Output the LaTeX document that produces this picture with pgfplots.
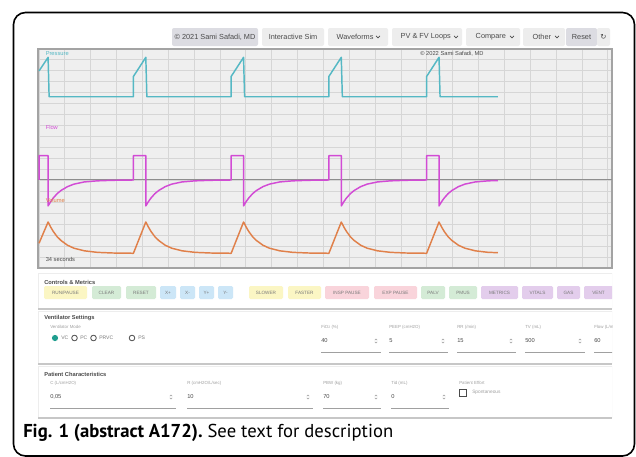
\documentclass[border=0pt]{standalone}
\usepackage{pgfplots}
\pgfplotsset{compat=1.18}
\usepackage{fontspec}
\setmainfont{Liberation Sans}
\newfontfamily\capfont{PT Sans}
\newfontfamily\symfont{DejaVu Sans}

\definecolor{chartbg}{HTML}{EFEFEF}
\definecolor{gridc}{HTML}{D6D6D6}
\definecolor{borderc}{HTML}{A3A3A3}
\definecolor{zeroc}{HTML}{8E8E8E}
\definecolor{pres}{HTML}{55B8C4}
\definecolor{flowc}{HTML}{D24BD5}
\definecolor{vol}{HTML}{E0804A}
\definecolor{btn}{HTML}{EDEDED}
\definecolor{btndark}{HTML}{DCDCE2}
\definecolor{uitext}{HTML}{4A4A4A}
\definecolor{labgray}{HTML}{A0A0A0}
\definecolor{btntext}{HTML}{7A7A7A}
\definecolor{cyel}{HTML}{FBF6C4}
\definecolor{cgrn}{HTML}{D4EBD6}
\definecolor{cblu}{HTML}{CCE6F7}
\definecolor{cpnk}{HTML}{F9D4DB}
\definecolor{cpur}{HTML}{E3CDEC}
\definecolor{radio}{HTML}{1F9E8F}

% toolbar button: x1, x2, fill, label
\newcommand\tbtn[4]{\fill[#3, rounded corners=1.5pt] (#1,28) rectangle (#2,46);
  \node[font=\fontsize{5.5}{6}\selectfont, text=uitext] at ({(#1+#2)/2},37) {#4};}
\newcommand\chev[1]{\draw[uitext, line width=0.5pt] (#1-2,35.8) -- (#1,37.8) -- (#1+2,35.8);}
% control button: x1, x2, fill, label
\newcommand\cbtn[4]{\fill[#3, rounded corners=1pt] (#1,286) rectangle (#2,299);
  \node[font=\fontsize{3.5}{4}\selectfont, text=btntext] at ({(#1+#2)/2},292.5) {#4};}
% spinner arrows: x, y
\newcommand\spin[2]{\draw[labgray, line width=0.35pt] (#1-1.2,#2-0.8) -- (#1,#2-2) -- (#1+1.2,#2-0.8)
  (#1-1.2,#2+0.8) -- (#1,#2+2) -- (#1+1.2,#2+0.8);}
% input field: x, x-end, y of label, label, value
\newcommand\field[5]{\node[anchor=west, inner sep=0, font=\fontsize{3.3}{4}\selectfont, text=labgray] at (#1,#3) {#4};
  \node[anchor=west, inner sep=0, font=\fontsize{4.3}{5}\selectfont, text=uitext] at (#1,#3+14) {#5};
  \spin{#2-5}{#3+14}
  \draw[labgray, line width=0.5pt] (#1,#3+25) -- (#2,#3+25);}

\begin{document}
\begin{tikzpicture}[x=0.75pt, y=-0.75pt]
\path[use as bounding box, fill=white] (0,0) rectangle (636,457);

% toolbar
\tbtn{172}{258}{btndark}{\textcopyright\ 2021 Sami Safadi, MD}
\tbtn{262}{324}{btn}{Interactive Sim}
\fill[btn, rounded corners=1.5pt] (328,28) rectangle (388,46);
\node[anchor=west, font=\fontsize{5.5}{6}\selectfont, text=uitext] at (332,37) {Waveforms}; \chev{378}
\fill[btn, rounded corners=1.5pt] (392,28) rectangle (462,46);
\node[anchor=west, font=\fontsize{5.5}{6}\selectfont, text=uitext] at (396,37) {PV \& FV Loops}; \chev{456}
\fill[btn, rounded corners=1.5pt] (466,28) rectangle (520,46);
\node[anchor=west, font=\fontsize{5.5}{6}\selectfont, text=uitext] at (471,37) {Compare}; \chev{512}
\fill[btn, rounded corners=1.5pt] (523,28) rectangle (565,46);
\node[anchor=west, font=\fontsize{5.5}{6}\selectfont, text=uitext] at (528,37) {Other}; \chev{557}
\tbtn{566}{597}{btndark}{Reset}
\tbtn{597}{610}{btn}{{\symfont ↻}}

\coordinate (sw) at (38,268);
\begin{axis}[
  at={(sw)}, anchor=south west,
  scale only axis, width=430.5pt, height=164.25pt,
  xmin=-0.04, xmax=22.16, ymin=0, ymax=20,
  xtick={0,...,22}, ytick={0,...,20},
  xticklabels={}, yticklabels={},
  major tick length=0pt,
  grid=major, major grid style={gridc, line width=0.7pt},
  axis background/.style={fill=chartbg},
  axis line style={draw=borderc, line width=0.9pt},
  every axis plot/.append style={line width=1.1pt, line join=round},
]
\addplot[draw=zeroc, line width=0.8pt] coordinates {(-0.04,8.04) (22.16,8.04)};
% pressure
\addplot[pres] coordinates {
(0,18.0) (0.35,19.24) (0.39,15.64) (3.65,15.64) (3.65,17.49) (4.13,19.24) (4.17,15.64)
(7.43,15.64) (7.43,17.49) (7.91,19.24) (7.95,15.64) (11.21,15.64) (11.21,17.49) (11.69,19.24)
(11.73,15.64) (14.99,15.64) (14.99,17.49) (15.47,19.24) (15.51,15.64) (17.75,15.64)};
% flow
\addplot[flowc] coordinates {
(0,8.04) (0,10.26) (0.35,10.26) (0.35,5.67) (0.45,6.06) (0.55,6.39) (0.70,6.79) (0.85,7.08)
(1.10,7.43) (1.35,7.66) (1.75,7.86) (2.25,7.96) (2.85,8.01) (3.55,8.03)
(3.65,8.04) (3.65,10.26) (4.13,10.26) (4.13,5.67) (4.23,6.06) (4.33,6.39) (4.48,6.79) (4.63,7.08)
(4.88,7.43) (5.13,7.66) (5.53,7.86) (6.03,7.96) (6.63,8.01) (7.33,8.03)
(7.43,8.04) (7.43,10.26) (7.91,10.26) (7.91,5.67) (8.01,6.06) (8.11,6.39) (8.26,6.79) (8.41,7.08)
(8.66,7.43) (8.91,7.66) (9.31,7.86) (9.81,7.96) (10.41,8.01) (11.11,8.03)
(11.21,8.04) (11.21,10.26) (11.69,10.26) (11.69,5.67) (11.79,6.06) (11.89,6.39) (12.04,6.79) (12.19,7.08)
(12.44,7.43) (12.69,7.66) (13.09,7.86) (13.59,7.96) (14.19,8.01) (14.89,8.03)
(14.99,8.04) (14.99,10.26) (15.47,10.26) (15.47,5.67) (15.57,6.06) (15.67,6.39) (15.82,6.79) (15.97,7.08)
(16.22,7.43) (16.47,7.66) (16.87,7.86) (17.37,7.96) (17.75,7.99)};
% volume
\addplot[vol] coordinates {
(0,2.26) (0.35,4.2) (0.45,3.74) (0.55,3.34) (0.70,2.86) (0.85,2.51) (1.10,2.08) (1.35,1.81)
(1.75,1.57) (2.25,1.43) (2.85,1.37) (3.55,1.35)
(3.65,1.34) (4.13,4.2) (4.23,3.74) (4.33,3.34) (4.48,2.86) (4.63,2.51) (4.88,2.08) (5.13,1.81)
(5.53,1.57) (6.03,1.43) (6.63,1.37) (7.33,1.35)
(7.43,1.34) (7.91,4.2) (8.01,3.74) (8.11,3.34) (8.26,2.86) (8.41,2.51) (8.66,2.08) (8.91,1.81)
(9.31,1.57) (9.81,1.43) (10.41,1.37) (11.11,1.35)
(11.21,1.34) (11.69,4.2) (11.79,3.74) (11.89,3.34) (12.04,2.86) (12.19,2.51) (12.44,2.08) (12.69,1.81)
(13.09,1.57) (13.59,1.43) (14.19,1.37) (14.89,1.35)
(14.99,1.34) (15.47,4.2) (15.57,3.74) (15.67,3.34) (15.82,2.86) (15.97,2.51) (16.22,2.08) (16.47,1.81)
(16.87,1.57) (17.37,1.43) (17.75,1.40)};
\node[anchor=west, inner sep=0, text=pres, font=\fontsize{4.3}{5}\selectfont] at (axis cs:0.25,19.6) {Pressure};
\node[anchor=west, inner sep=0, text=flowc, font=\fontsize{4.3}{5}\selectfont] at (axis cs:0.25,12.85) {Flow};
\node[anchor=west, inner sep=0, text=vol, font=\fontsize{4.3}{5}\selectfont] at (axis cs:0.25,6.2) {Volume};
\node[anchor=west, inner sep=0, text=uitext, font=\fontsize{4.3}{5}\selectfont] at (axis cs:0.25,0.8) {34 seconds};
\node[inner sep=0, text=uitext, font=\fontsize{4.3}{5}\selectfont] at (axis cs:15.97,19.55) {\textcopyright\ 2022 Sami Safadi, MD};
\end{axis}

% panels
\begin{scope}
\clip (38,270) rectangle (612,420);
\draw[black!7, fill=white] (38,273) rectangle (612,308);
\draw[black!22, line width=1.2pt] (38,309) -- (612,309);
\draw[black!7, fill=white] (38,311) rectangle (612,363);
\draw[black!22, line width=1.2pt] (38,364) -- (612,364);
\draw[black!7, fill=white] (38,366) rectangle (612,417);
\draw[black!22, line width=1.2pt] (38,418) -- (612,418);

\node[anchor=west, inner sep=0, font=\bfseries\fontsize{4.3}{5}\selectfont, text=uitext] at (44,282) {Controls \& Metrics};
\cbtn{44}{87}{cyel}{RUN/PAUSE}
\cbtn{92}{121}{cgrn}{CLEAR}
\cbtn{126}{156}{cgrn}{RESET}
\cbtn{160}{176}{cblu}{X+}
\cbtn{180}{195}{cblu}{X-}
\cbtn{199}{214}{cblu}{Y+}
\cbtn{218}{233}{cblu}{Y-}
\cbtn{249}{283}{cyel}{SLOWER}
\cbtn{288}{321}{cyel}{FASTER}
\cbtn{325}{369}{cpnk}{INSP PAUSE}
\cbtn{374}{417}{cpnk}{EXP PAUSE}
\cbtn{421}{445}{cgrn}{PALV}
\cbtn{449}{477}{cgrn}{PMUS}
\cbtn{481}{518}{cpur}{METRICS}
\cbtn{522}{553}{cpur}{VITALS}
\cbtn{557}{580}{cpur}{GAS}
\cbtn{584}{613}{cpur}{VENT}

\node[anchor=west, inner sep=0, font=\bfseries\fontsize{4.3}{5}\selectfont, text=uitext] at (44,318) {Ventilator Settings};
\node[anchor=west, inner sep=0, font=\fontsize{3.3}{4}\selectfont, text=labgray] at (50,327) {Ventilator Mode};
\fill[radio] (55,338) circle (3.1);
\draw[uitext, line width=0.6pt] (74.5,338) circle (2.8) (93.5,338) circle (2.8) (132,338) circle (2.8);
\node[anchor=west, inner sep=0, font=\fontsize{3.8}{4}\selectfont, text=btntext] at (61,338) {VC};
\node[anchor=west, inner sep=0, font=\fontsize{3.8}{4}\selectfont, text=btntext] at (80,338) {PC};
\node[anchor=west, inner sep=0, font=\fontsize{3.8}{4}\selectfont, text=btntext] at (99,338) {PRVC};
\node[anchor=west, inner sep=0, font=\fontsize{3.8}{4}\selectfont, text=btntext] at (138,338) {PS};
\field{321}{381}{327}{FiO\raisebox{-0.4pt}{\fontsize{2.6}{3}\selectfont 2} (\%)}{40}
\field{389}{448}{327}{PEEP (cmH2O)}{5}
\field{457}{516}{327}{RR (/min)}{15}
\field{525}{585}{327}{TV (mL)}{500}
\field{594}{655}{327}{Flow (L/min)}{60}

\node[anchor=west, inner sep=0, font=\bfseries\fontsize{4.3}{5}\selectfont, text=uitext] at (44,374) {Patient Characteristics};
\field{50}{176}{383}{C (L/cmH2O)}{0,05}
\field{187}{313}{383}{R (cmH2O/L/sec)}{10}
\field{323}{381}{383}{PBW (kg)}{70}
\field{391}{449}{383}{Tid (mL)}{0}
\node[anchor=west, inner sep=0, font=\fontsize{3.3}{4}\selectfont, text=labgray] at (459,383) {Patient Effort};
\draw[uitext, line width=0.5pt] (459.5,389) rectangle (466.5,396);
\node[anchor=west, inner sep=0, font=\fontsize{3.6}{4}\selectfont, text=labgray] at (472,392.5) {Spontaneous};
\end{scope}

% caption
\node[anchor=west, inner sep=0] at (23,433)
  {\capfont\fontsize{14}{16}\selectfont\bfseries Fig. 1 (abstract A172).\mdseries\ See text for description};

% frame
\draw[line width=1.2pt, rounded corners=9pt] (13.5,12.5) rectangle (634.5,456);
\end{tikzpicture}
\end{document}
